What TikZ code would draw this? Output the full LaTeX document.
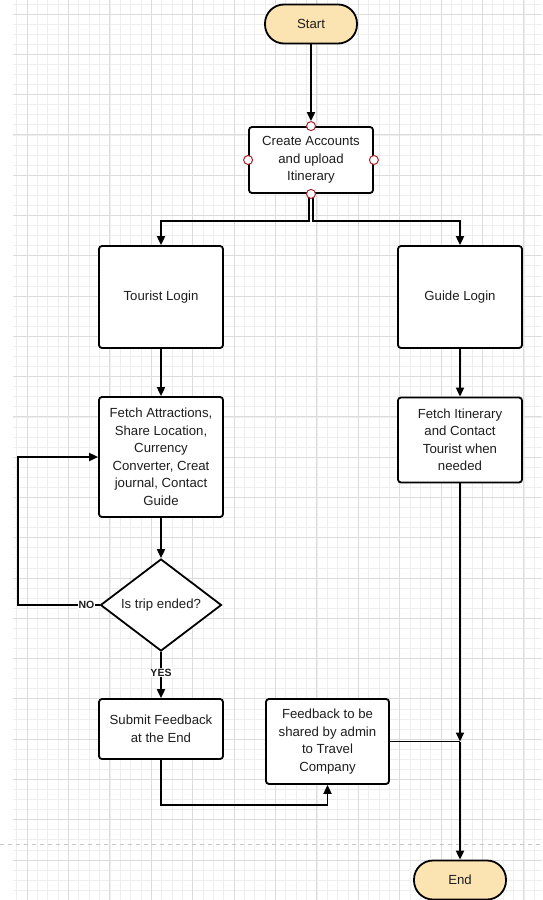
\documentclass[tikz,border=0pt]{standalone}
\usepackage{fontspec}
\setmainfont{Liberation Sans}
\usetikzlibrary{arrows.meta,shapes.geometric}
\definecolor{termfill}{RGB}{252,227,178}
\definecolor{portcol}{RGB}{168,38,44}
\definecolor{gridmaj}{RGB}{220,220,220}
\definecolor{gridmin}{RGB}{238,238,238}
\definecolor{txtcol}{RGB}{30,30,30}
\tikzset{
  proc/.style={draw, rounded corners=3pt, line width=1.8pt, fill=white, align=center, text=txtcol, font=\fontsize{13.2}{17.5}\selectfont, minimum width=124pt, minimum height=#1},
  term/.style={draw, rounded corners=19pt, line width=1.8pt, fill=termfill, text=txtcol, font=\fontsize{13.2}{17.5}\selectfont, minimum width=92pt, minimum height=39pt},
  decide/.style={diamond, draw, line width=1.8pt, fill=white, aspect=1.3, text=txtcol, font=\fontsize{13.2}{17.5}\selectfont, minimum width=121pt, minimum height=92pt, inner sep=1pt},
  port/.style={circle, draw=portcol, fill=white, line width=1pt, minimum size=9pt, inner sep=0pt},
  map/.style={-{Triangle[length=9pt,width=8pt]}, line width=1.9pt},
  lab/.style={font=\fontsize{10.5}{12}\selectfont\bfseries, text=txtcol, fill=white, inner sep=1pt},
}

\begin{document}
\begin{tikzpicture}[x=1pt,y=-1pt]
  \useasboundingbox (0,0) rectangle (542,900);
  % background grid
  \begin{scope}
    \clip (13,0) rectangle (542,900);
    \foreach \i in {0,...,52} \draw[gridmin, line width=0.6pt] ({16.65+10.35*\i},0) -- ++(0,900);
    \foreach \j in {0,...,90} \draw[gridmin, line width=0.6pt] (0,{3.93+10.07*\j}) -- ++(542,0);
    \foreach \i in {0,...,12} \draw[gridmaj, line width=0.9pt] ({27+41.4*\i},0) -- ++(0,900);
    \foreach \j in {0,...,22} \draw[gridmaj, line width=0.9pt] (0,{14+40.29*\j}) -- ++(542,0);
  \end{scope}
  \draw[gray!45, line width=1pt, dash pattern=on 4pt off 4pt] (0,844) -- (542,844);

  \node[term] (Start) at (311,24) {Start};
  \node[proc=66pt] (Create) at (311,160) {Create Accounts\\and upload\\Itinerary};
  \node[proc=102pt] (Tourist) at (161,297) {Tourist Login};
  \node[proc=102pt] (Guide) at (460,297) {Guide Login};
  \node[proc=120pt] (Fetch) at (161,457) {Fetch Attractions,\\Share Location,\\Currency\\Converter, Creat\\journal, Contact\\Guide};
  \node[proc=85pt] (FetchIt) at (460,440) {Fetch Itinerary\\and Contact\\Tourist when\\needed};
  \node[decide] (Trip) at (161,605) {Is trip ended?};
  \node[proc=60pt] (Submit) at (161,729) {Submit Feedback\\at the End};
  \node[proc=85pt, minimum width=123pt] (Feedback) at (327.5,741.5) {Feedback to be\\shared by admin\\to Travel\\Company};
  \node[term] (End) at (460,880) {End};
  \coordinate (join) at (460,741.5);

  \node[port] (pN) at (Create.north) {};
  \draw[map] (Start) -- (pN.north);
  \draw[map] ([xshift=-2pt]Create.south) -- ++(0,27) -| (Tourist.north);
  \draw[map] ([xshift=2pt]Create.south) -- ++(0,27) -| (Guide.north);
  \node[port] (pW) at (Create.west) {};
  \node[port] (pE) at (Create.east) {};
  \node[port] (pS) at (Create.south) {};
  \draw[map] (Tourist) -- (Fetch);
  \draw[map] (Guide) -- (FetchIt);
  \draw[map] (Fetch) -- (Trip);
  \draw[map] (Trip.west) -- node[lab, pos=0.16]{NO} ++(-82,0) |- (Fetch.west);
  \draw[map] (Trip.south) -- node[lab, pos=0.45]{YES} (Submit.north);
  \draw[map] (Submit.south) -- ++(0,45) -| (Feedback.south);
  \draw[map] (FetchIt.south) -- (join);
  \draw[line width=1.1pt] (Feedback.east) -- (join);
  \draw[map] (join) -- (End.north);
\end{tikzpicture}
\end{document}
